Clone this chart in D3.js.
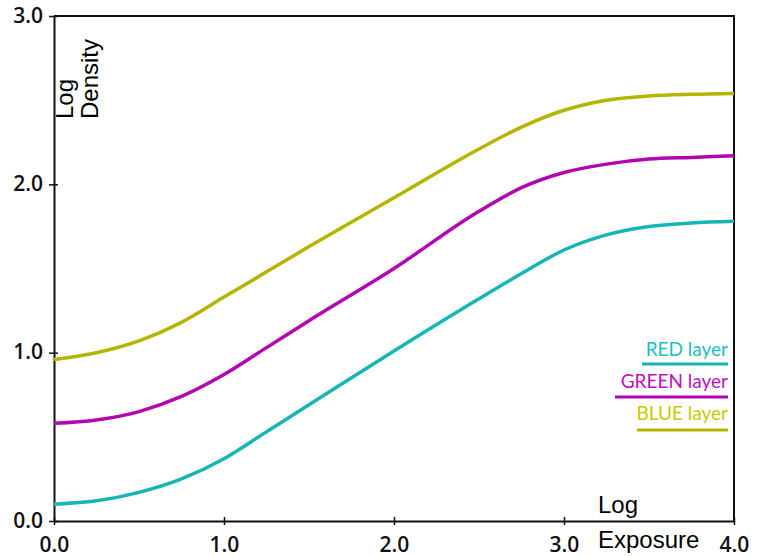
<!DOCTYPE html>
<html>
<head>
<meta charset="utf-8">
<script src="https://cdn.jsdelivr.net/npm/d3@7"></script>
<style>
  body { margin: 0; background: #fff; }
  .tick text { font-family: "Open Sans", sans-serif; font-weight: 600; font-size: 21px; fill: #111; }
  .axis-title { font-family: "Liberation Sans", Arial, sans-serif; font-size: 24px; fill: #000; }
  .legend text { font-family: Lato, sans-serif; font-weight: 400; font-size: 19px; }
</style>
</head>
<body>
<svg class="chart"></svg>
<script>
// log exposure sample points
var exposure = [0.0, 0.25, 0.5, 0.75, 1.0, 1.25, 1.5, 2.0, 2.5, 2.75, 3.0, 3.25, 3.5, 3.75, 4.0];

// log density per layer
var redLayer   = [0.10, 0.12, 0.17, 0.25, 0.37, 0.53, 0.69, 1.01, 1.32, 1.47, 1.61, 1.70, 1.75, 1.77, 1.78];
var greenLayer = [0.58, 0.60, 0.65, 0.74, 0.87, 1.03, 1.19, 1.50, 1.84, 1.98, 2.07, 2.12, 2.15, 2.16, 2.17];
var blueLayer  = [0.96, 1.00, 1.07, 1.18, 1.33, 1.48, 1.63, 1.92, 2.21, 2.34, 2.44, 2.50, 2.525, 2.535, 2.54];

var layerNames  = ["RED layer", "GREEN layer", "BLUE layer"];
var layerColors = ["#17b6b6", "#b306b3", "#b5b500"];
var legendColors = ["#19c0c0", "#c010c0", "#caca00"];

var xTicks = [0, 1, 2, 3, 4];
var yTicks = [0, 1, 2, 3];

var margin = {top: 16, right: 25, bottom: 36, left: 54};
var width = 759 - margin.left - margin.right;
var height = 557 - margin.top - margin.bottom;

var x = d3.scaleLinear().domain([0, 4]).range([0, width]);
var y = d3.scaleLinear().domain([0, 3]).range([height, 0]);

var svg = d3.select(".chart")
  .attr("width", 759)
  .attr("height", 557);

var chart = svg.append("g")
  .attr("transform", "translate(" + margin.left + "," + margin.top + ")");

// frame top / right
chart.append("path")
  .attr("d", "M0,0H" + width + "V" + height)
  .attr("fill", "none")
  .attr("stroke", "#111")
  .attr("stroke-width", 2);

var xAxis = d3.axisBottom(x)
  .tickValues(xTicks)
  .tickSize(0)
  .tickPadding(16)
  .tickFormat(d3.format(".1f"));

var yAxis = d3.axisLeft(y)
  .tickValues(yTicks)
  .tickSize(0)
  .tickPadding(11)
  .tickFormat(d3.format(".1f"));

var gx = chart.append("g")
  .attr("transform", "translate(0," + height + ")")
  .call(xAxis);
gx.select(".domain").attr("stroke", "#111").attr("stroke-width", 2);
gx.selectAll(".tick line").attr("y1", -4).attr("y2", 4).attr("stroke", "#111").attr("stroke-width", 1.5);
gx.selectAll(".tick text").attr("dy", "0.7em");

var gy = chart.append("g").call(yAxis);
gy.select(".domain").attr("stroke", "#111").attr("stroke-width", 2);
gy.selectAll(".tick line").attr("x1", -5).attr("x2", 4).attr("stroke", "#111").attr("stroke-width", 1.5);
gy.selectAll(".tick text").attr("dy", "0.3em");

// curves
var line = d3.line()
  .x(function(d) { return x(d[0]); })
  .y(function(d) { return y(d[1]); })
  .curve(d3.curveMonotoneX);

[redLayer, greenLayer, blueLayer].forEach(function(vals, i) {
  chart.append("path")
    .datum(exposure.map(function(e, j) { return [e, vals[j]]; }))
    .attr("fill", "none")
    .attr("stroke", layerColors[i])
    .attr("stroke-width", 3.5)
    .attr("d", line);
});

// axis titles
chart.append("text")
  .attr("class", "axis-title")
  .attr("transform", "translate(19,103) rotate(-90)")
  .text("Log");
chart.append("text")
  .attr("class", "axis-title")
  .attr("transform", "translate(44,103) rotate(-90)")
  .text("Density");

chart.append("text")
  .attr("class", "axis-title")
  .attr("x", x(3.2))
  .attr("y", height - 8)
  .text("Log");
chart.append("text")
  .attr("class", "axis-title")
  .attr("x", x(3.2))
  .attr("y", height + 27)
  .text("Exposure");

// legend
var legend = chart.append("g").attr("class", "legend");
var legendRight = width - 6;
var legendWidths = [86, 113, 91];
layerNames.forEach(function(name, i) {
  legend.append("text")
    .attr("x", legendRight)
    .attr("y", 340 + i * 32)
    .attr("text-anchor", "end")
    .attr("fill", legendColors[i])
    .text(name);
  legend.append("line")
    .attr("x1", legendRight - legendWidths[i])
    .attr("x2", legendRight)
    .attr("y1", 348 + i * 33)
    .attr("y2", 348 + i * 33)
    .attr("stroke", layerColors[i])
    .attr("stroke-width", 3);
});
</script>
</body>
</html>
